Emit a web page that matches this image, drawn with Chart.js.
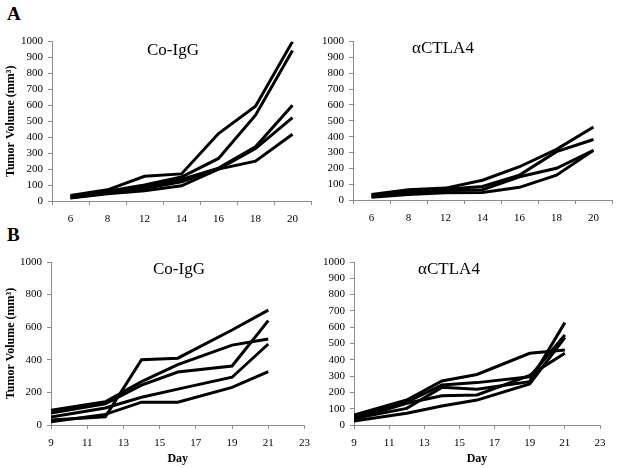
<!DOCTYPE html>
<html>
<head>
<meta charset="utf-8">
<script src="https://cdn.jsdelivr.net/npm/chart.js@4/dist/chart.umd.min.js"></script>
<style>
body { margin: 0; background: #fff; width: 627px; height: 468px; position: relative; overflow: hidden; font-family: "Liberation Serif", "Times New Roman", serif; }
canvas { position: absolute; }
.name { position: absolute; font-size: 17px; line-height: 17px; white-space: nowrap; transform: translateX(-50%); color: #000; }
.letter { position: absolute; font-size: 19px; line-height: 19px; font-weight: bold; color: #000; }
</style>
</head>
<body>
<div class="letter" style="left:7px;top:4px">A</div>
<div class="letter" style="left:7px;top:225px">B</div>

<canvas id="aCtrl" width="318" height="200" style="left:0;top:30px"></canvas>
<canvas id="aCtla" width="309" height="200" style="left:318px;top:30px"></canvas>
<canvas id="bCtrl" width="318" height="218" style="left:0;top:250px"></canvas>
<canvas id="bCtla" width="309" height="218" style="left:318px;top:250px"></canvas>

<div class="name" style="left:173px;top:41px">Co-IgG</div>
<div class="name" style="left:443px;top:39px">αCTLA4</div>
<div class="name" style="left:179px;top:260px">Co-IgG</div>
<div class="name" style="left:449px;top:260px">αCTLA4</div>

<script>
// experiment A: measured days (category axis, day 10 not measured)
const daysA = ['6', '8', '12', '14', '16', '18', '20'];
const aCtrl1 = [35, 70, 155, 170, 423, 594, 1000];
const aCtrl2 = [30, 62, 100, 150, 267, 538, 944];
const aCtrl3 = [25, 55, 90, 135, 206, 340, 600];
const aCtrl4 = [20, 50, 78, 120, 200, 329, 523];
const aCtrl5 = [18, 45, 65, 95, 200, 250, 419];
const aCtla1 = [35, 65, 75, 125, 210, 320, 461];
const aCtla2 = [30, 55, 68, 85, 157, 305, 382];
const aCtla3 = [25, 45, 60, 65, 147, 200, 314];
const aCtla4 = [18, 35, 45, 48, 80, 157, 314];

// experiment B: measured days (linear axis)
const daysB = [9, 12, 14, 16, 19, 21];
const bCtrl1 = [31, 50, 400, 410, 583, 705];
const bCtrl2 = [90, 143, 266, 370, 490, 528];
const bCtrl3 = [73, 130, 245, 325, 362, 640];
const bCtrl4 = [49, 104, 170, 220, 293, 497];
const bCtrl5 = [20, 65, 140, 140, 231, 327];
const bCtla1 = [61, 153, 270, 310, 440, 460];
const bCtla2 = [51, 140, 245, 260, 296, 552];
const bCtla3 = [40, 102, 231, 219, 266, 628];
const bCtla4 = [35, 133, 180, 184, 305, 440];
const bCtla5 = [25, 72, 117, 153, 252, 536];

const yTicksA = { min: 0, max: 1000, step: 100 };
const yTicksBCtrl = { min: 0, max: 1000, step: 200 };
const xTicksB = { min: 9, max: 23, step: 2 };

Chart.defaults.font.family = '"Liberation Serif", "Times New Roman", serif';
Chart.defaults.font.size = 11;
Chart.defaults.color = '#000';

const axisColor = '#8c8c8c';
const yTitle = 'Tumor Volume (mm\u00b3)';
const plain = v => String(v);

const lineSet = (values, days) => ({
    data: days ? values.map((v, i) => ({ x: days[i], y: v })) : values,
    borderColor: '#000',
    borderWidth: 3,
    pointRadius: 0,
    tension: 0,
    fill: false
});

const yScale = (width, range, title) => ({
    min: range.min,
    max: range.max,
    ticks: { stepSize: range.step, padding: 5, autoSkip: false, callback: plain },
    grid: { drawOnChartArea: false, color: axisColor, tickLength: 4 },
    border: { color: axisColor },
    title: { display: !!title, text: title, font: { size: 12, weight: 'bold' }, padding: { top: 4, bottom: 0 } },
    afterFit: s => { s.width = width; }
});

const makeChart = (id, xScale, yAxis, datasets, padding, labels) => new Chart(document.getElementById(id), {
    type: 'line',
    data: { labels, datasets },
    options: {
        responsive: false,
        animation: false,
        layout: { padding },
        plugins: { legend: { display: false }, tooltip: { enabled: false } },
        scales: { x: xScale, y: yAxis }
    }
});

const categoryX = height => ({
    type: 'category',
    offset: true,
    grid: { offset: true, drawOnChartArea: false, color: axisColor, tickLength: 4 },
    border: { color: axisColor },
    ticks: { padding: 8, autoSkip: false, maxRotation: 0 },
    afterFit: s => { s.height = height; }
});

const linearX = height => ({
    type: 'linear',
    min: xTicksB.min,
    max: xTicksB.max,
    grid: { drawOnChartArea: false, color: axisColor, tickLength: 4 },
    border: { color: axisColor },
    ticks: { stepSize: xTicksB.step, padding: 8, maxRotation: 0, autoSkip: false, callback: plain },
    title: { display: true, text: 'Day', font: { size: 12, weight: 'bold' }, padding: { top: 0, bottom: 2 } },
    afterFit: s => { s.height = height; }
});

makeChart('aCtrl', categoryX(29), yScale(52, yTicksA, yTitle),
    [aCtrl1, aCtrl2, aCtrl3, aCtrl4, aCtrl5].map(v => lineSet(v)),
    { top: 11, right: 7, bottom: 0, left: 0 }, daysA);

makeChart('aCtla', categoryX(30), yScale(35, yTicksA, ''),
    [aCtla1, aCtla2, aCtla3, aCtla4].map(v => lineSet(v)),
    { top: 11, right: 15, bottom: 0, left: 0 }, daysA);

makeChart('bCtrl', linearX(43), yScale(51, yTicksBCtrl, yTitle),
    [bCtrl1, bCtrl2, bCtrl3, bCtrl4, bCtrl5].map(v => lineSet(v, daysB)),
    { top: 12, right: 6, bottom: 0, left: 0 });

makeChart('bCtla', linearX(43), yScale(36, yTicksA, ''),
    [bCtla1, bCtla2, bCtla3, bCtla4, bCtla5].map(v => lineSet(v, daysB)),
    { top: 12, right: 27, bottom: 0, left: 0 });
</script>
</body>
</html>
